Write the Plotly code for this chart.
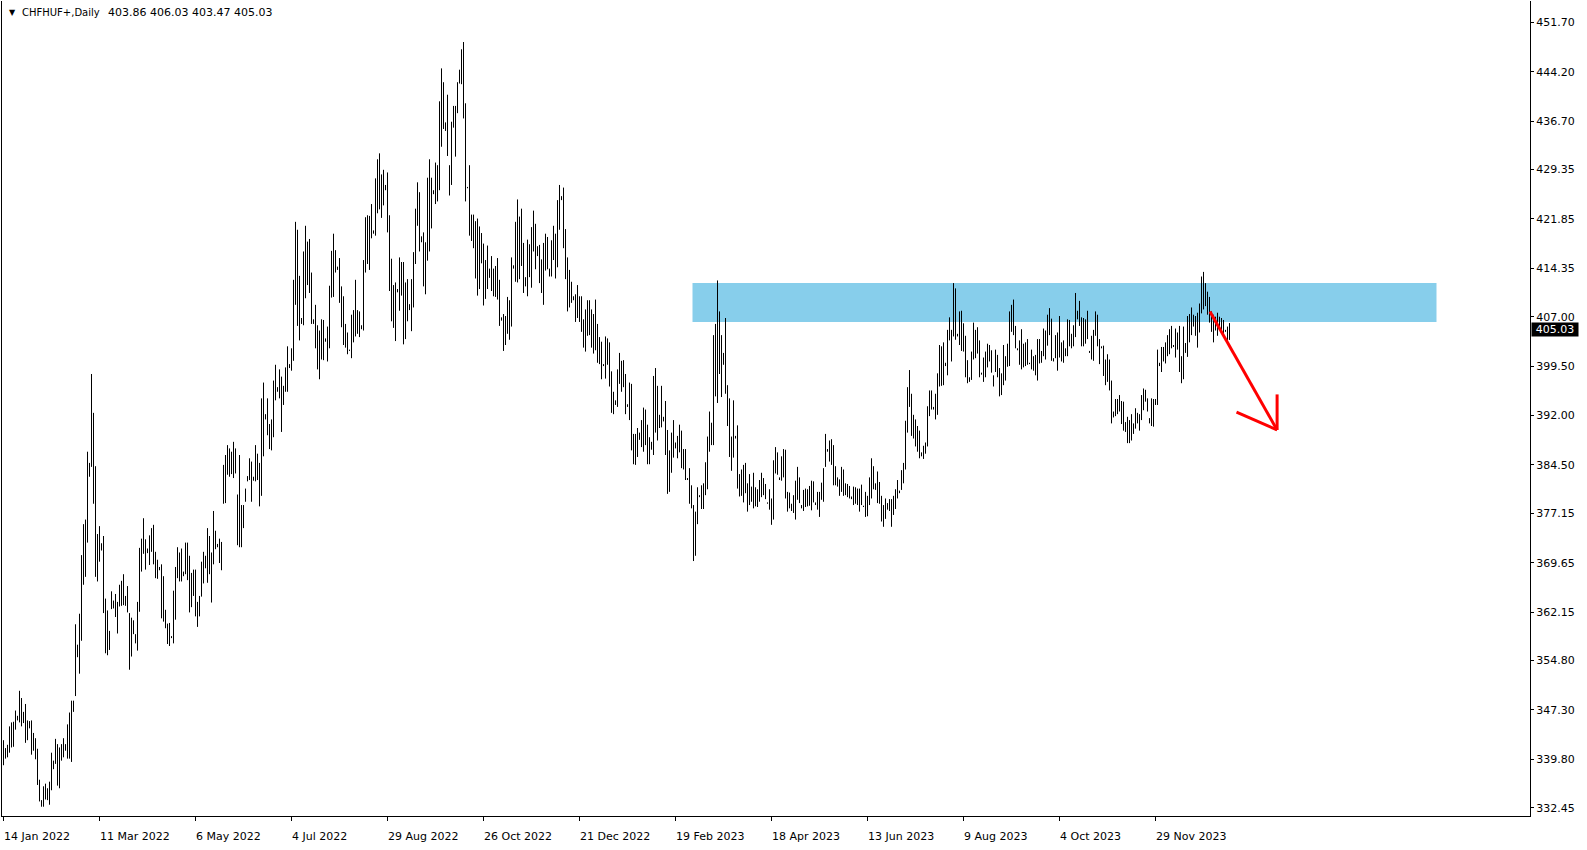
import plotly.graph_objects as go

# ---- data (daily bars, high / low) ----
high = [
342.7,341.5,342.0,344.8,345.4,345.5,347.2,346.4,350.2,349.1,
347.0,348.2,345.7,345.6,345.7,343.8,343.0,341.4,336.7,333.6,
335.7,336.1,335.4,336.4,340.8,339.6,342.9,342.1,341.6,342.1,
343.0,342.1,345.1,346.9,348.7,348.7,360.3,357.2,361.9,370.8,
375.5,376.2,386.5,384.8,398.3,392.4,384.3,374.0,375.2,372.6,
373.7,364.2,362.4,359.3,365.3,363.9,364.9,363.7,366.3,366.9,
367.9,364.6,366.1,362.0,361.3,360.9,358.8,363.7,371.9,373.3,
376.4,373.2,371.8,373.8,374.9,375.4,371.3,370.1,369.0,369.4,
367.6,362.5,360.4,360.5,358.5,365.4,369.0,372.0,371.2,371.8,
368.3,372.7,372.7,370.7,368.1,368.6,368.6,363.7,364.6,369.8,
371.3,370.7,374.9,373.7,371.2,377.5,374.5,372.5,373.3,372.8,
384.5,386.0,387.5,387.0,386.5,388.0,387.0,380.0,386.0,378.4,
378.4,380.9,382.8,385.5,385.0,382.7,387.5,386.2,384.8,394.6,
397.0,392.2,394.6,390.7,391.4,397.3,399.7,396.3,399.0,397.9,
396.5,399.3,402.5,399.8,402.2,412.6,421.4,420.2,413.2,406.8,
416.9,420.8,418.4,418.8,413.7,406.6,408.8,405.7,404.9,406.6,
406.5,403.7,405.5,411.7,417.0,419.6,417.1,414.6,415.9,411.6,
410.1,405.9,404.6,402.0,407.3,408.0,412.6,408.0,407.8,405.7,
415.6,422.1,422.4,422.3,424.1,420.1,428.0,430.9,431.8,428.6,
429.3,427.0,428.9,422.4,415.8,411.8,412.2,411.2,416.0,415.3,
415.3,412.2,412.7,408.9,412.7,416.8,423.4,427.4,425.9,419.2,
419.8,418.3,428.1,430.9,428.1,426.2,430.4,430.0,439.7,444.7,
442.6,436.5,440.7,430.0,436.6,439.0,439.0,442.6,444.5,447.6,
448.7,439.4,426.7,430.0,422.5,422.5,421.5,421.9,420.7,419.7,
418.1,415.6,417.8,414.3,416.2,414.3,414.7,415.9,412.6,406.9,
407.4,407.1,410.0,409.5,416.0,414.8,421.4,424.8,422.2,423.4,
418.2,413.0,418.7,418.0,420.6,423.1,421.1,417.7,417.9,415.7,
418.2,419.6,419.1,414.3,418.6,420.8,419.6,424.7,427.0,425.3,
426.6,420.3,416.0,414.1,412.3,410.1,410.4,411.8,410.1,410.1,
406.6,408.1,409.5,409.5,408.1,407.4,409.6,405.9,403.9,403.2,
399.8,404.0,403.7,403.1,398.7,395.6,394.3,399.0,401.5,400.3,
400.4,398.3,393.7,397.0,396.8,389.2,389.2,390.1,389.4,391.3,
393.2,392.9,390.6,388.7,388.0,398.0,399.2,396.5,392.1,396.5,
391.8,394.2,389.8,386.7,389.4,391.3,387.9,388.9,390.6,389.7,
386.9,386.9,382.5,384.0,381.4,378.4,377.4,381.1,379.9,381.4,
381.7,384.9,388.8,392.6,390.9,404.2,405.9,412.5,407.8,404.2,
401.5,406.8,396.6,394.6,388.8,394.3,388.9,390.5,383.1,383.8,
384.5,384.8,381.7,383.1,381.2,383.3,381.1,380.8,382.2,383.3,
382.5,381.6,378.8,380.8,379.4,385.2,387.2,386.4,382.6,385.8,
386.9,386.8,380.4,380.3,378.6,379.9,382.1,384.2,382.6,378.4,
380.7,380.9,380.8,381.3,382.1,382.0,378.8,380.4,380.4,381.8,
384.0,389.2,386.9,388.2,388.4,387.5,384.3,382.6,382.3,384.2,
383.8,381.7,381.6,381.3,379.7,381.2,381.1,380.9,380.9,381.5,
378.3,380.4,379.8,382.6,385.5,384.3,381.7,383.5,381.9,379.8,
378.4,379.4,378.7,379.3,379.3,379.8,380.8,382.2,380.6,383.7,
384.8,391.2,396.3,398.9,395.3,392.1,391.4,390.4,389.7,386.4,
387.4,387.9,393.4,395.8,395.8,393.3,395.3,398.4,402.7,402.5,
403.1,400.0,405.0,406.9,405.0,412.1,411.3,404.4,407.8,407.9,
406.0,404.1,400.4,397.8,401.7,406.1,405.0,405.4,403.4,398.5,
400.8,401.7,402.9,402.7,401.9,398.1,402.0,401.2,399.2,398.4,
402.7,401.0,402.9,407.8,408.8,409.6,405.6,402.2,403.4,405.1,
402.9,403.1,403.6,400.0,402.0,401.0,401.2,403.6,403.6,401.8,
405.2,404.9,407.3,408.3,406.7,400.7,404.2,404.6,407.1,403.1,
403.4,402.2,406.6,406.5,404.4,405.7,410.6,407.9,409.4,406.9,
406.8,406.6,407.9,401.8,404.1,405.0,407.8,407.3,403.6,402.5,
402.6,400.5,401.3,400.5,397.3,392.6,394.5,394.5,395.1,394.2,
394.1,391.0,391.8,391.3,392.2,390.8,393.1,392.4,392.2,395.1,
396.1,395.9,394.6,391.6,394.6,394.5,394.5,402.0,400.0,402.4,
402.4,403.1,404.2,405.1,405.6,402.7,405.2,404.6,405.6,401.0,
405.5,403.0,407.1,407.4,408.4,407.3,407.1,407.6,409.0,413.1,
413.8,412.1,410.8,410.0,407.8,407.3,407.0,407.6,407.0,406.8,
406.5,405.0,405.5,406.03,
]

low = [
338.9,339.9,340.1,340.8,341.6,341.7,344.3,345.7,345.4,344.8,
345.3,342.3,342.7,344.5,340.5,341.1,339.8,335.9,333.4,332.6,
332.6,333.7,333.6,332.9,335.1,338.3,339.1,335.8,335.4,339.6,
340.1,341.1,339.9,339.9,339.4,347.0,349.4,355.3,352.8,357.8,
366.3,367.5,372.7,382.7,384.2,378.6,367.5,366.8,369.8,371.5,
362.0,355.9,355.6,356.4,362.6,362.7,361.4,358.9,363.0,363.1,
363.2,363.1,362.1,353.4,355.4,358.8,357.4,356.3,362.2,368.3,
371.0,368.6,371.1,369.3,371.3,369.4,367.3,367.2,368.5,361.2,
360.7,359.7,357.3,357.0,358.2,357.4,361.0,367.3,366.8,366.8,
367.6,367.9,367.0,362.1,362.9,364.6,361.5,359.9,361.5,364.5,
366.5,368.8,366.6,367.9,363.6,369.4,371.7,372.0,369.6,368.5,
378.6,378.7,383.0,382.7,383.1,382.5,383.2,372.3,372.0,372.0,
374.9,378.9,382.0,382.2,378.9,382.1,382.0,382.2,378.2,379.8,
385.8,391.4,389.0,386.9,386.7,388.7,394.3,395.6,394.6,389.5,
393.6,395.6,395.6,399.2,398.8,400.3,408.8,405.6,403.4,405.9,
405.7,409.8,411.8,410.6,405.9,405.9,402.2,399.0,397.5,400.5,
400.4,403.2,400.2,402.2,409.9,410.0,413.7,414.1,409.1,405.4,
402.7,402.3,401.3,401.8,400.7,403.1,404.0,404.4,403.9,405.1,
404.9,413.7,415.0,414.1,418.9,419.6,419.3,422.7,423.3,422.0,
423.9,426.2,419.8,410.9,406.3,405.3,403.3,410.7,407.9,410.2,
402.8,403.6,406.3,408.0,404.8,408.4,415.0,420.8,416.9,418.3,
411.6,410.4,415.5,416.9,420.4,425.6,424.1,424.5,426.2,432.8,
435.5,435.2,431.4,425.4,427.0,435.7,431.3,437.9,442.4,442.3,
437.1,424.5,426.5,419.3,418.5,417.4,412.8,410.2,411.2,415.1,
408.7,409.7,411.2,412.9,410.9,410.1,410.0,409.6,405.6,406.4,
401.8,402.7,404.4,403.5,405.5,414.3,412.3,412.2,412.7,414.7,
410.6,411.6,410.1,413.0,411.4,416.9,414.2,416.2,412.1,410.6,
408.8,414.0,414.2,413.1,413.1,415.6,412.8,414.5,420.2,424.7,
417.4,412.7,407.8,408.4,409.1,409.5,406.2,406.8,406.2,404.7,
402.3,401.7,404.1,404.2,402.3,401.4,401.9,400.0,399.8,397.5,
399.5,397.6,399.7,396.4,392.4,392.2,393.6,393.3,396.8,395.6,
396.3,392.2,393.3,391.3,386.7,384.6,384.5,385.7,388.3,387.2,
386.5,387.5,384.6,384.6,386.8,386.0,389.4,388.2,390.1,390.2,
391.1,386.0,380.1,380.4,383.3,385.6,387.0,385.5,386.4,384.0,
383.8,382.2,382.2,378.6,377.9,369.9,370.7,375.5,379.6,377.8,
377.8,379.9,380.8,386.5,387.5,387.5,394.9,393.9,398.3,394.8,
399.7,395.3,390.4,385.7,383.6,385.6,388.5,380.9,379.7,379.8,
378.8,380.2,377.4,378.4,378.9,377.9,378.2,378.1,378.9,379.6,
379.9,379.3,378.6,377.7,375.4,376.2,383.2,383.0,382.2,382.1,
382.6,379.4,377.4,377.9,377.5,377.2,376.2,379.2,378.7,377.9,
377.5,378.1,378.2,378.3,377.6,378.8,378.4,377.7,376.6,379.2,
378.9,384.2,386.5,385.0,384.5,381.4,381.4,381.2,379.8,380.4,
379.8,379.9,379.6,379.4,379.3,378.4,378.6,378.4,377.4,378.4,
378.1,376.6,376.7,378.4,379.4,380.8,380.7,378.7,378.6,375.9,
375.1,376.3,377.7,377.5,375.1,376.9,377.8,379.4,380.2,380.7,
381.7,383.8,389.4,393.3,388.9,388.5,387.3,386.5,385.5,385.8,
385.4,386.2,387.3,391.9,392.9,392.9,391.4,392.1,396.4,396.5,
396.6,399.5,398.1,403.4,400.2,404.0,403.5,404.0,402.7,401.8,
401.7,397.8,396.9,397.1,397.4,400.5,400.7,401.4,397.8,398.2,
397.1,397.8,399.3,400.2,398.5,396.4,398.6,397.8,394.9,395.1,
396.6,397.3,399.4,399.5,404.7,404.2,402.2,401.9,399.7,399.0,
399.3,399.5,399.7,399.8,399.0,398.8,398.1,397.3,399.9,400.0,
401.0,400.5,402.6,404.2,400.3,400.2,400.7,398.8,400.8,400.2,
400.0,401.0,401.0,402.5,402.2,402.5,403.9,406.6,405.6,402.5,
402.5,402.9,403.6,401.5,400.5,400.3,404.1,402.5,399.8,402.2,
398.0,396.6,397.1,395.8,390.8,391.7,391.9,392.2,392.6,390.7,
389.7,389.5,387.8,387.8,388.2,389.2,390.0,390.8,389.7,391.3,
392.8,394.1,392.6,390.8,390.4,390.3,393.6,393.6,399.5,398.6,
400.2,399.9,401.0,401.3,402.2,402.4,400.8,402.0,398.6,396.9,
397.5,401.5,400.9,403.1,404.2,405.5,404.1,402.3,404.6,407.5,
408.1,408.6,407.3,406.1,404.7,403.1,404.9,404.1,405.5,404.7,
404.1,404.7,403.1,403.47,
]

date_labels = ["14 Jan 2022", "11 Mar 2022", "6 May 2022", "4 Jul 2022",
               "29 Aug 2022", "26 Oct 2022", "21 Dec 2022", "19 Feb 2023",
               "18 Apr 2023", "13 Jun 2023", "9 Aug 2023", "4 Oct 2023",
               "29 Nov 2023"]
date_label_bars = [0, 48, 96, 144, 192, 240, 288, 336, 384, 432, 480, 528, 576]

price_ticks = [451.70, 444.20, 436.70, 429.35, 421.85, 414.35, 407.00, 399.50,
               392.00, 384.50, 377.15, 369.65, 362.15, 354.80, 347.30, 339.80,
               332.45]

symbol = "CHFHUF+,Daily"
last_ohlc = [403.86, 406.03, 403.47, 405.03]

zone_bars = [344.5, 716.5]
zone_prices = [406.2, 412.1]

FONT = "DejaVu Sans"

# ---- build bar segments (low -> high for every bar) ----
xs, ys = [], []
for i, (h, l) in enumerate(zip(high, low)):
    xs += [i, i, None]
    ys += [l, h, None]

fig = go.Figure()
fig.add_trace(go.Scatter(x=xs, y=ys, mode="lines",
                         line=dict(color="#000000", width=1),
                         hoverinfo="skip", showlegend=False))

# resistance zone
fig.add_shape(type="rect", xref="x", yref="y",
              x0=zone_bars[0], x1=zone_bars[1], y0=zone_prices[0], y1=zone_prices[1],
              fillcolor="#87CEEB", line=dict(width=0), layer="below")

# red arrow
red = dict(color="#FF0000", width=3)
fig.add_shape(type="line", x0=603.2, y0=407.8, x1=636.8, y1=389.8, line=red)
fig.add_shape(type="line", x0=616.5, y0=392.5, x1=636.8, y1=389.8, line=red)
fig.add_shape(type="line", x0=636.8, y0=395.2, x1=636.8, y1=389.8, line=red)

annotations = []
for pos, txt in zip(date_label_bars, date_labels):
    annotations.append(dict(x=pos, xref="x", y=0, yref="paper", text=txt,
                            xanchor="left", yanchor="top", showarrow=False,
                            xshift=-2, yshift=-12,
                            font=dict(family=FONT, size=11, color="#000000")))

# header
annotations.append(dict(x=0, xref="paper", y=1, yref="paper", text="▼",
                        xanchor="left", yanchor="middle", showarrow=False,
                        xshift=5, yshift=-11,
                        font=dict(family=FONT, size=8, color="#000000")))
annotations.append(dict(x=0, xref="paper", y=1, yref="paper", text=symbol,
                        xanchor="left", yanchor="middle", showarrow=False,
                        xshift=18, yshift=-11,
                        font=dict(family=FONT, size=10, color="#000000")))
annotations.append(dict(x=0, xref="paper", y=1, yref="paper",
                        text=" ".join(f"{v:.2f}" for v in last_ohlc),
                        xanchor="left", yanchor="middle", showarrow=False,
                        xshift=104, yshift=-11,
                        font=dict(family=FONT, size=11, color="#000000")))

# current price label
annotations.append(dict(x=1, xref="paper", y=last_ohlc[3], yref="y",
                        text=f"{last_ohlc[3]:.2f}", xanchor="left", yanchor="middle",
                        showarrow=False, xshift=1, bgcolor="#000000",
                        width=46, height=13, borderpad=0,
                        font=dict(family=FONT, size=11, color="#FFFFFF")))

fig.update_layout(
    width=1587, height=850,
    margin=dict(l=2, r=57, t=1, b=34),
    paper_bgcolor="#FFFFFF", plot_bgcolor="#FFFFFF",
    showlegend=False,
    annotations=annotations,
    xaxis=dict(range=[-0.75, 763.25], tickvals=date_label_bars,
               showticklabels=False, ticks="outside", ticklen=4,
               tickcolor="#000000", showline=True, linecolor="#000000",
               linewidth=1, mirror=False, showgrid=False, zeroline=False,
               fixedrange=True),
    yaxis=dict(side="right", range=[331.19, 454.93], tickvals=price_ticks,
               ticktext=[f"{v:.2f}" for v in price_ticks],
               ticks="outside", ticklen=3, tickcolor="#000000",
               tickfont=dict(family=FONT, size=11, color="#000000"),
               showline=True, linecolor="#000000", linewidth=1, mirror=True,
               showgrid=False, zeroline=False, fixedrange=True),
)

fig.write_html("out.html",
               config={"displayModeBar": False, "staticPlot": True},
               post_script="document.body.style.margin='0px';"
                           "document.body.style.overflow='hidden';")
